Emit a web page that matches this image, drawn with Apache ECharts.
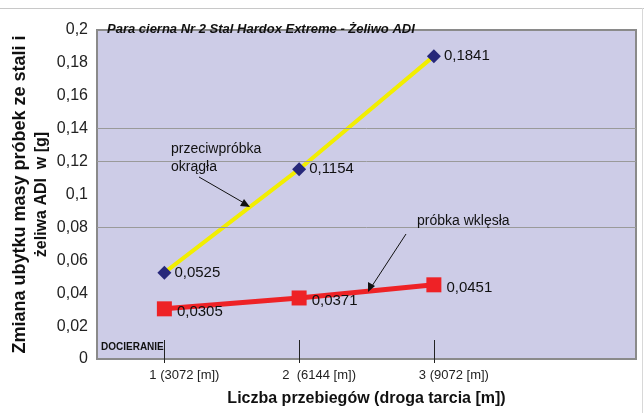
<!DOCTYPE html>
<html>
<head>
<meta charset="utf-8">
<script src="https://cdn.jsdelivr.net/npm/echarts@6/dist/echarts.min.js"></script>
<style>
  html, body { margin: 0; padding: 0; background: #fff; }
  #chart { width: 644px; height: 413px; }
</style>
</head>
<body>
<div id="chart"></div>
<script>
  // dane
  var categories = ['1 (3072 [m])', '2  (6144 [m])', '3 (9072 [m])', '']
  var okragla = [0.0525, 0.1154, 0.1841]
  var wklesla = [0.0305, 0.0371, 0.0451]
  var gridValues = [0.08, 0.12, 0.14]  // widoczne linie siatki

  var font = '"Liberation Sans", Arial, sans-serif'
  var fmt = function (v) { return String(v).replace('.', ',') }

  var chart = echarts.init(document.getElementById('chart'))
  var option = {
    animation: false,
    textStyle: { fontFamily: font },
    grid: {
      left: 97, right: 8, top: 30, bottom: 54,
      outerBoundsMode: 'none',
      containLabel: false,
      show: true,
      backgroundColor: '#cdcce7',
      borderColor: '#8a8a8a',
      borderWidth: 2
    },
    xAxis: [{
      type: 'category',
      data: categories,
      boundaryGap: true,
      name: 'Liczba przebiegów (droga tarcia [m])',
      nameLocation: 'middle',
      nameGap: 32,
      nameTextStyle: { fontSize: 16, fontWeight: 'bold', color: '#111', fontFamily: font },
      axisLine: { show: false },
      axisTick: {
        show: true, inside: true, length: 19, alignWithLabel: true,
        interval: function (i) { return i < 3 },
        lineStyle: { color: '#222', width: 1 }
      },
      axisLabel: {
        fontSize: 13, color: '#222', margin: 10,
        padding: [0, 0, 0, 40],
        interval: 0
      },
      splitLine: { show: false }
    }, {
      type: 'category',
      data: categories,
      position: 'bottom',
      boundaryGap: true,
      axisLine: { show: false },
      axisTick: {
        show: true, length: 4, alignWithLabel: true,
        interval: function (i) { return i < 3 },
        lineStyle: { color: '#222', width: 1 }
      },
      axisLabel: { show: false },
      splitLine: { show: false }
    }],
    yAxis: {
      type: 'value',
      min: 0, max: 0.2, interval: 0.02,
      name: '{a|Zmiana ubytku masy próbek ze stali i}\n{b|żeliwa ADI  w [g]}',
      nameLocation: 'middle',
      nameRotate: 90,
      nameGap: 44,
      nameMoveOverlap: false,
      nameTextStyle: {
        color: '#111', lineHeight: 22, fontFamily: font,
        rich: {
          a: { fontSize: 18, fontWeight: 'bold', color: '#111', lineHeight: 22, fontFamily: font },
          b: { fontSize: 16, fontWeight: 'bold', color: '#111', lineHeight: 22, fontFamily: font }
        }
      },
      axisLine: { show: true, lineStyle: { color: '#8a8a8a', width: 2 } },
      axisTick: { show: false },
      axisLabel: {
        fontSize: 16, color: '#222', margin: 9,
        formatter: function (v) { return fmt(+v.toFixed(2)) }
      },
      splitLine: { show: false }
    },
    series: [{
      name: 'przeciwpróbka okrągła',
      type: 'line',
      data: okragla,
      symbol: 'diamond',
      symbolSize: 14,
      lineStyle: { color: '#f2ee00', width: 4 },
      itemStyle: { color: '#27287a' },
      label: {
        show: true, position: 'right', distance: 3,
        fontSize: 15, color: '#111',
        formatter: function (p) { return fmt(p.value) }
      },
      markLine: {
        silent: true,
        symbol: 'none',
        label: { show: false },
        lineStyle: { color: '#9a9a9a', width: 1, type: 'solid' },
        data: gridValues.map(function (v) { return { yAxis: v } })
      },
      z: 3
    }, {
      name: 'próbka wklęsła',
      type: 'line',
      data: wklesla,
      symbol: 'rect',
      symbolSize: 15,
      lineStyle: { color: '#ee2226', width: 5 },
      itemStyle: { color: '#ee2226' },
      label: {
        show: true, position: 'right', distance: 5,
        fontSize: 15, color: '#111', offset: [0, 3],
        formatter: function (p) { return fmt(p.value) }
      },
      z: 3
    }],
    graphic: [
      // ramka zewnętrzna
      { type: 'line', shape: { x1: 0, y1: 8.5, x2: 644, y2: 8.5 }, style: { stroke: '#c8c8c8', lineWidth: 1 } },
      { type: 'line', shape: { x1: 642.5, y1: 8, x2: 642.5, y2: 413 }, style: { stroke: '#d8d8d8', lineWidth: 1 } },
      {
        type: 'text', left: 107, top: 23, z: 10,
        style: {
          text: 'Para cierna Nr 2 Stal Hardox Extreme - Żeliwo ADI',
          font: 'italic bold 13px ' + font, fill: '#111'
        }
      },
      {
        type: 'text', left: 101, top: 342, z: 10,
        style: { text: 'DOCIERANIE', font: 'bold 10px ' + font, fill: '#111' }
      },
      {
        type: 'text', left: 171, top: 140, z: 10,
        style: { text: 'przeciwpróbka\nokrągła', font: '14px ' + font, fill: '#111', lineHeight: 18 }
      },
      {
        type: 'text', left: 417, top: 214, z: 10,
        style: { text: 'próbka wklęsła', font: '14px ' + font, fill: '#111' }
      },
      // strzałki
      { type: 'line', z: 10, shape: { x1: 199, y1: 177, x2: 244, y2: 203 }, style: { stroke: '#111', lineWidth: 1 } },
      { type: 'polygon', z: 10, shape: { points: [[250, 207], [240, 206], [244, 199]] }, style: { fill: '#111' } },
      { type: 'line', z: 10, shape: { x1: 406, y1: 234, x2: 372, y2: 286 }, style: { stroke: '#111', lineWidth: 1 } },
      { type: 'polygon', z: 10, shape: { points: [[368, 292], [368, 282], [375, 286]] }, style: { fill: '#111' } }
    ]
  }
  chart.setOption(option)
</script>
</body>
</html>
